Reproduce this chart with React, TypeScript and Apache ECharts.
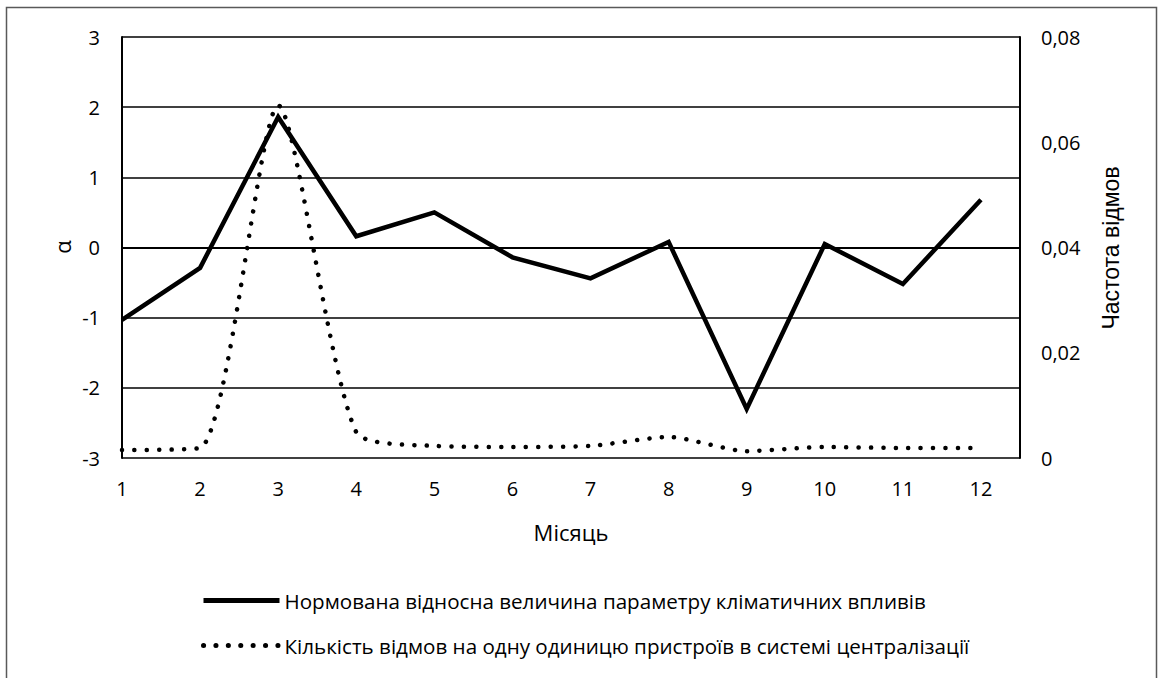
import React, { useEffect, useRef } from "react";
import * as echarts from "echarts";

const months = [1, 2, 3, 4, 5, 6, 7, 8, 9, 10, 11, 12];
const alphaValues = [-1.03, -0.29, 1.86, 0.16, 0.5, -0.14, -0.44, 0.08, -2.3, 0.05, -0.52, 0.68];
const failureValues = [0.0015, 0.0019, 0.067, 0.0049, 0.0023, 0.0021, 0.0023, 0.004, 0.0013, 0.0021, 0.0019, 0.0019];
const seriesNames = [
  "Нормована відносна величина параметру кліматичних впливів",
  "Кількість відмов на одну одиницю пристроїв в системі централізації",
];
const leftTitle = "α";
const rightTitle = "Частота відмов";
const xTitle = "Місяць";

const FONT = "'Open Sans', 'Noto Sans', sans-serif";

export default function App() {
  const ref = useRef<HTMLDivElement>(null);
  useEffect(() => {
    if (!ref.current) return;
    const chart = echarts.init(ref.current, null, { renderer: "svg" });
    chart.setOption({
      animation: false,
      backgroundColor: "#ffffff",
      grid: { left: 122, right: 138, top: 37, bottom: 220, containLabel: false },
      xAxis: {
        type: "value",
        min: 1,
        max: 12.5,
        interval: 1,
        axisLine: { show: true, lineStyle: { color: "#000", width: 2 } },
        axisTick: { show: false },
        splitLine: { show: false },
        axisLabel: {
          margin: 20,
          fontSize: 20,
          color: "#000",
          fontFamily: FONT,
          showMaxLabel: false,
          formatter: (v: number) => (Number.isInteger(v) && v <= 12 ? String(v) : ""),
        },
      },
      yAxis: [
        {
          type: "value",
          min: -3,
          max: 3,
          interval: 1,
          axisLine: { show: true, onZero: false, lineStyle: { color: "#000", width: 2 } },
          axisTick: { show: false },
          splitLine: { show: true, lineStyle: { color: "#000", width: 1.5 } },
          axisLabel: { margin: 22, fontSize: 20, color: "#000", fontFamily: FONT },
        },
        {
          type: "value",
          min: 0,
          max: 0.08,
          interval: 0.02,
          position: "right",
          axisLine: { show: true, onZero: false, lineStyle: { color: "#000", width: 2 } },
          axisTick: { show: false },
          splitLine: { show: false },
          axisLabel: {
            margin: 21,
            fontSize: 20,
            color: "#000",
            fontFamily: FONT,
            formatter: (v: number) => (v === 0 ? "0" : v.toFixed(2).replace(".", ",")),
          },
        },
      ],
      legend: {
        orient: "vertical",
        left: 196,
        top: 585,
        itemWidth: 76,
        itemHeight: 14,
        itemGap: 24,
        itemStyle: { opacity: 0 },
        lineStyle: { width: 5 },
        textStyle: { fontSize: 20.6, color: "#000", fontFamily: FONT },
        data: seriesNames,
      },
      series: [
        {
          name: seriesNames[0],
          type: "line",
          yAxisIndex: 0,
          symbol: "none",
          data: months.map((m, i) => [m, alphaValues[i]]),
          lineStyle: { color: "#000", width: 4.5, join: "miter" },
          itemStyle: { color: "#000" },
          z: 3,
        },
        {
          name: seriesNames[1],
          type: "line",
          yAxisIndex: 1,
          symbol: "none",
          smooth: 0.22,
          data: months.map((m, i) => [m, failureValues[i]]),
          lineStyle: { color: "#000", width: 4.5, type: [0.1, 12.3], cap: "round" },
          itemStyle: { color: "#000" },
          z: 4,
        },
      ],
      graphic: [
        {
          type: "rect",
          shape: { x: 6.5, y: 7.5, width: 1150, height: 700 },
          style: { fill: "none", stroke: "#595959", lineWidth: 1.5 },
          silent: true,
        },
        {
          type: "text",
          x: 62,
          y: 247,
          rotation: Math.PI / 2,
          style: { text: leftTitle, fontSize: 22, fill: "#000", fontFamily: FONT, align: "center", verticalAlign: "middle" },
        },
        {
          type: "text",
          x: 1111,
          y: 248,
          rotation: Math.PI / 2,
          style: { text: rightTitle, fontSize: 23, fill: "#000", fontFamily: "'Liberation Sans', Arial, sans-serif", align: "center", verticalAlign: "middle" },
        },
        {
          type: "text",
          x: 571,
          y: 532,
          style: { text: xTitle, fontSize: 22, fill: "#000", fontFamily: FONT, align: "center", verticalAlign: "middle" },
        },
      ],
    });
    return () => chart.dispose();
  }, []);
  return (
    <div
      ref={ref}
      style={{ position: "absolute", left: 0, top: 0, width: 1158, height: 678 }}
    />
  );
}
